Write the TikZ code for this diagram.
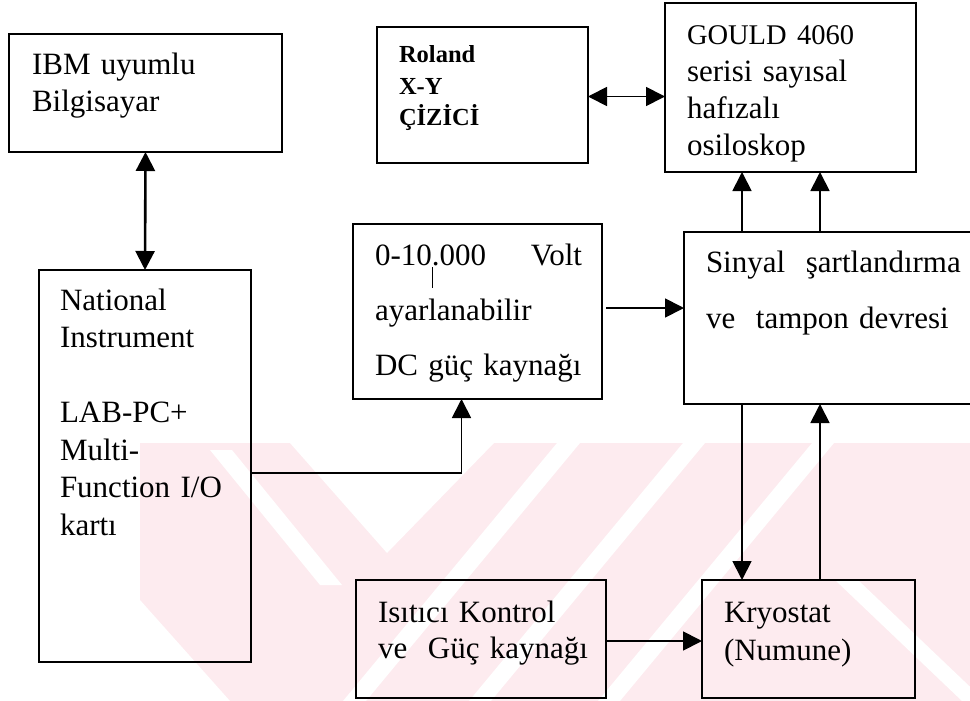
\documentclass[tikz,border=0pt]{standalone}
\usepackage{fontspec}
\setmainfont{Liberation Serif}
\usetikzlibrary{arrows.meta,calc}
\definecolor{wm}{RGB}{253,235,239}
\begin{document}
\begin{tikzpicture}[x=1pt,y=-1pt,
  box/.style={draw,line width=2pt,inner sep=0pt,outer sep=0pt,fill=none},
  txt/.style={anchor=base west,inner sep=0pt,outer sep=0pt,align=left,text width=#1,
    font=\fontsize{31}{37}\selectfont},
  arr/.style={line width=1.8pt,-{Triangle[length=19pt,width=19pt]}},
  darr/.style={line width=1.8pt,{Triangle[length=19pt,width=19pt]}-{Triangle[length=19pt,width=19pt]}},
  wmstripe/.style={fill=white}]
\useasboundingbox (0,0) rectangle (970,701);
\fill[white] (0,0) rectangle (970,701);
% faint watermark
\begin{scope}
\clip (140,443) rectangle (970,701);
\fill[wm] (140,443) rectangle (970,701);
\fill[wmstripe] (290,443) -- (494,443) -- (387,553) -- cycle;
\fill[wmstripe] (557,443) -- (580,443) -- (366,701) -- (343,701) -- cycle;
\fill[wmstripe] (683,443) -- (705,443) -- (491,701) -- (469,701) -- cycle;
\fill[wmstripe] (812,443) -- (834,443) -- (620,701) -- (598,701) -- cycle;
\fill[wmstripe] (210,450) -- (232,450) -- (342,585) -- (320,585) -- cycle;
\fill[wmstripe] (140,600) -- (230,701) -- (140,701) -- cycle;
\fill[wmstripe] (835,580) -- (858,580) -- (985,701) -- (962,701) -- cycle;
\end{scope}
% boxes
\node[box,minimum width=273pt,minimum height=118pt] (ibm) at (145.5,93) {};
\node[box,minimum width=211pt,minimum height=136pt] (roland) at (482.5,95) {};
\node[box,minimum width=251pt,minimum height=169pt] (gould) at (790.5,87.5) {};
\node[box,minimum width=249pt,minimum height=175pt] (dc) at (477.5,311.5) {};
\node[box,minimum width=300pt,minimum height=172pt] (sin) at (834,318) {};
\node[box,minimum width=212pt,minimum height=392pt] (nat) at (145,466) {};
\node[box,minimum width=250pt,minimum height=118pt] (isi) at (481,639) {};
\node[box,minimum width=213pt,minimum height=118pt] (kryo) at (808.5,639) {};
% texts
\node[txt=240pt] (ibmt) at (32,75) {IBM uyumlu\\Bilgisayar};
\node[txt=180pt,font=\fontsize{24.5}{31.5}\selectfont\bfseries] (rolt) at (399,63) {Roland\\X-Y\\ÇİZİCİ};
\node[txt=240pt,font=\fontsize{31}{36.7}\selectfont] (gout) at (687,45) {{\fontsize{28.5}{36.7}\selectfont GOULD 4060}\\serisi sayısal\\hafızalı\\osiloskop};
\node[txt=207pt,font=\fontsize{31}{55}\selectfont] (dct) at (375,265) {0-10.000\hfill Volt\\ayarlanabilir\\DC güç kaynağı};
\node[txt=270pt,font=\fontsize{31}{56}\selectfont] (sint) at (706,272) {Sinyal\ \ şartlandırma\\ve\ \ tampon devresi};
\node[txt=200pt,font=\fontsize{31}{37.5}\selectfont] (natt) at (60,310) {National\\Instrument\\[37.5pt]LAB-PC+\\Multi-\\Function I/O\\kartı};
\node[txt=240pt,font=\fontsize{31}{36}\selectfont] (isit) at (378,622) {Isıtıcı Kontrol\\ve\ \ Güç kaynağı};
\node[txt=200pt,font=\fontsize{31}{38}\selectfont] (kryt) at (724,622) {Kryostat\\(Numune)};
% stray tick mark
\draw[line width=1pt] ([xshift=79pt,yshift=-43pt]dc.north west) -- ([xshift=79pt,yshift=-64pt]dc.north west);
% connectors
\draw[darr,line width=2.6pt] (ibm.south) -- (nat.north);
\draw[darr] ([yshift=-1.5pt]roland.east) -- ([yshift=-1.5pt]roland.east -| gould.west);
\draw[arr] ([xshift=58pt]sin.north west) -- ([xshift=58pt]sin.north west |- gould.south);
\draw[arr] ([xshift=136pt]sin.north west) -- ([xshift=136pt]sin.north west |- gould.south);
\draw[arr] ([xshift=4pt,yshift=3.5pt]dc.east) -- ([yshift=3.5pt]dc.east -| sin.west);
\draw[arr] ([yshift=-7pt]nat.east) -| ([xshift=-16pt]dc.south);
\draw[arr] ([xshift=58pt]sin.south west) -- ([xshift=58pt]sin.south west |- kryo.north);
\draw[arr] ([xshift=136pt]sin.south west |- kryo.north) -- ([xshift=136pt]sin.south west);
\draw[arr] ([yshift=-2pt]isi.east) -- ([yshift=-2pt]isi.east -| kryo.west);
\end{tikzpicture}
\end{document}
